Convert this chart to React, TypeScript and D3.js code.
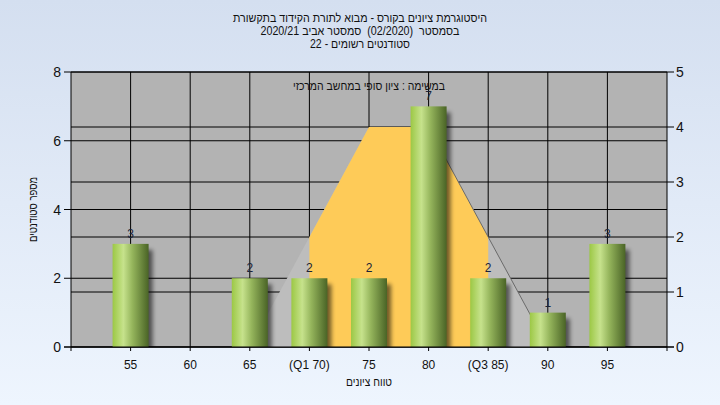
import React from "react";
import * as d3 from "d3";

const categories = [55, 60, 65, 70, 75, 80, 85, 90, 95];
const tickLabels = ["55", "60", "65", "(Q1 70)", "75", "80", "(Q3 85)", "90", "95"];
const counts = [3, 0, 2, 2, 2, 7, 2, 1, 3];
const leftTicks = [0, 2, 4, 6, 8];
const rightTicks = [0, 1, 2, 3, 4, 5];
const curveX = [65, 75, 80, 90];
const curveY = [0, 4, 4, 0];
const q1 = 70;
const q3 = 85;
const titleLines = [
  "היסטוגרמת ציונים בקורס - מבוא לתורת הקידוד בתקשורת",
  "בסמסטר  (02/2020)  סמסטר אביב 2020/21",
  "סטודנטים רשומים - 22",
];
const titleWidths = [254, 199, 100];
const subtitle = "במשימה : ציון סופי במחשב המרכזי";
const xTitle = "טווח ציונים";
const yTitle = "מספר סטודנטים";

const W = 720, H = 405;
const L = 71, R = 667, T = 72, B = 347;
const FONT = "'Liberation Sans', Arial, sans-serif";

export default function App() {
  const x = d3.scaleLinear().domain([50, 100]).range([L, R]);
  const yL = d3.scaleLinear().domain([0, 8]).range([B, T]);
  const yR = d3.scaleLinear().domain([0, 5]).range([B, T]);
  const barW = 36;

  const pts: [number, number][] = curveX.map((v, i) => [x(v), yR(curveY[i])]);
  const poly = d3.line()(pts) + "Z";

  return (
    <svg width={W} height={H} style={{ position: "absolute", left: 0, top: 0 }} fontFamily={FONT}>
      <defs>
        <linearGradient id="bg" x1="0" y1="0" x2="0" y2="1">
          <stop offset="0" stopColor="#d4dff0" />
          <stop offset="1" stopColor="#eef5fe" />
        </linearGradient>
        <linearGradient id="bar" x1="0" y1="0" x2="1" y2="0">
          <stop offset="0" stopColor="#9cc845" />
          <stop offset="0.3" stopColor="#c6e28c" />
          <stop offset="0.55" stopColor="#95b55c" />
          <stop offset="1" stopColor="#4a6426" />
        </linearGradient>
        <filter id="blur" x="-50%" y="-50%" width="200%" height="200%">
          <feGaussianBlur stdDeviation="2" />
        </filter>
        <clipPath id="qclip">
          <rect x={x(q1)} y={T} width={x(q3) - x(q1)} height={B - T} />
        </clipPath>
        <clipPath id="plot">
          <rect x={L} y={T} width={R - L} height={B - T} />
        </clipPath>
      </defs>
      <rect width={W} height={H} fill="url(#bg)" />
      {titleLines.map((t, i) => (
        <text key={i} x={360} y={22 + i * 13} textAnchor="middle" fontSize={12} fill="#111" direction="rtl"
          style={{ whiteSpace: "pre" }} textLength={titleWidths[i]} lengthAdjust="spacingAndGlyphs">
          {t}
        </text>
      ))}
      <rect x={L} y={T} width={R - L} height={B - T} fill="#b3b3b3" />
      {leftTicks.map((v) => (
        <line key={"gl" + v} x1={L} x2={R} y1={yL(v)} y2={yL(v)} stroke="#000" />
      ))}
      {rightTicks.map((v) => (
        <line key={"gr" + v} x1={L} x2={R} y1={yR(v)} y2={yR(v)} stroke="#000" />
      ))}
      {categories.map((c) => (
        <line key={"gv" + c} x1={x(c)} x2={x(c)} y1={T} y2={B} stroke="#000" />
      ))}
      <path d={poly} fill="#bdbdbd" />
      <path d={poly} fill="#fecb58" clipPath="url(#qclip)" />
      <line x1={pts[2][0]} y1={pts[2][1]} x2={pts[3][0]} y2={pts[3][1]} stroke="#6a6a6a" strokeWidth={1} />
      <text x={369} y={90} textAnchor="middle" fontSize={12} fill="#111" direction="rtl"
        textLength={152} lengthAdjust="spacingAndGlyphs">
        {subtitle}
      </text>
      <g clipPath="url(#plot)">
        {categories.map((c, i) =>
          counts[i] > 0 ? (
            <rect key={"s" + c} x={x(c) - barW / 2 + 4} y={yL(counts[i]) + 6} width={barW} height={B - yL(counts[i])}
              fill="#000" opacity={0.55} filter="url(#blur)" />
          ) : null
        )}
      </g>
      {categories.map((c, i) =>
        counts[i] > 0 ? (
          <rect key={"b" + c} x={x(c) - barW / 2} y={yL(counts[i])} width={barW} height={B - yL(counts[i])} fill="url(#bar)" />
        ) : null
      )}
      {categories.map((c, i) =>
        counts[i] > 0 ? (
          <text key={"l" + c} x={x(c)} y={yL(counts[i]) - 6} textAnchor="middle" fontSize={12} fill="#1a2338">
            {counts[i]}
          </text>
        ) : null
      )}
      <line x1={L} x2={L} y1={T} y2={B + 4} stroke="#000" />
      <line x1={R} x2={R} y1={T} y2={B + 4} stroke="#000" />
      <line x1={L - 7} x2={R + 7} y1={B} y2={B} stroke="#000" />
      {leftTicks.map((v) => (
        <g key={"lt" + v}>
          <line x1={L - 7} x2={L} y1={yL(v)} y2={yL(v)} stroke="#000" />
          <text x={L - 10} y={yL(v) + 5} textAnchor="end" fontSize={14} fill="#111">{v}</text>
        </g>
      ))}
      {rightTicks.map((v) => (
        <g key={"rt" + v}>
          <line x1={R} x2={R + 7} y1={yR(v)} y2={yR(v)} stroke="#000" />
          <text x={R + 9} y={yR(v) + 5} textAnchor="start" fontSize={14} fill="#111">{v}</text>
        </g>
      ))}
      {categories.map((c, i) => (
        <g key={"xt" + c}>
          <line x1={x(c)} x2={x(c)} y1={B} y2={B + 4} stroke="#000" />
          <text x={x(c)} y={369} textAnchor="middle" fontSize={12} fill="#111">{tickLabels[i]}</text>
        </g>
      ))}
      <text x={369} y={386} textAnchor="middle" fontSize={12} fill="#111" direction="rtl"
        textLength={46} lengthAdjust="spacingAndGlyphs">{xTitle}</text>
      <text transform={`translate(37,${(T + B) / 2}) rotate(-90)`} textAnchor="middle" fontSize={12} fill="#111" direction="rtl"
        textLength={65} lengthAdjust="spacingAndGlyphs">
        {yTitle}
      </text>
    </svg>
  );
}
